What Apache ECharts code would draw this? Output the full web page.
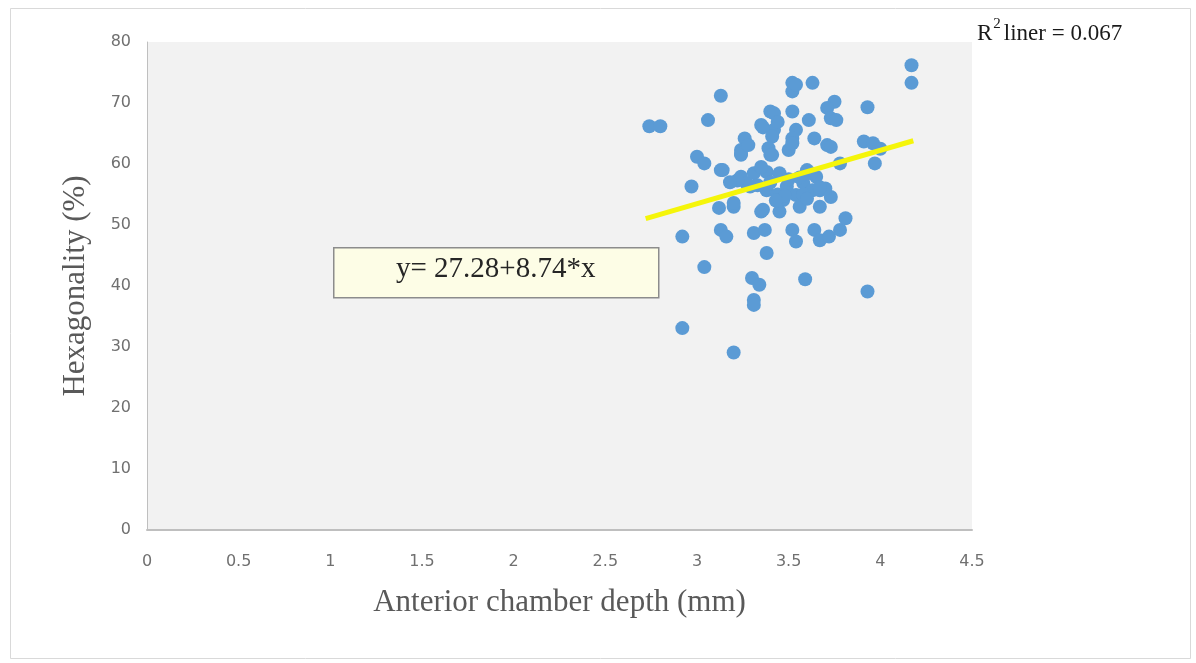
<!DOCTYPE html>
<html>
<head>
<meta charset="utf-8">
<script src="https://cdn.jsdelivr.net/npm/echarts@6/dist/echarts.min.js"></script>
<style>html,body{margin:0;padding:0;background:#fff}#c{width:1196px;height:663px}</style>
</head>
<body>
<div id="c"></div>
<script>
const xValues = [
3.13,3.06,2.74,2.80,3.00,3.04,3.26,3.35,3.40,3.42,3.24,3.52,3.63,3.52,3.54,4.17,4.17,3.93,3.75,3.71,
3.73,3.76,3.61,3.52,3.42,3.44,3.36,3.54,3.52,3.64,3.71,3.91,3.96,4.00,3.41,3.39,3.50,3.13,2.97,3.24,
3.12,3.20,2.92,3.13,3.16,3.31,3.37,3.35,3.38,3.40,3.97,3.78,3.36,3.52,3.54,3.64,3.67,3.72,3.78,3.81,
3.04,3.30,3.34,3.31,3.31,3.59,3.93,2.92,3.20,3.14,3.24,3.41,3.24,3.31,3.38,3.45,3.29,3.38,3.49,3.58,
3.65,3.63,3.54,3.47,3.20,3.45,3.56,3.67,3.73,3.67,3.73,3.52,3.28,3.40,3.44,3.50,3.58,3.60,3.70,3.62,
3.33,3.27,3.22,3.18,3.48,3.67,3.56,3.43,3.60,3.35
];
const yValues = [
71.2,67.2,66.2,66.2,61.2,60.1,64.2,66.4,68.6,65.6,62.3,73.3,73.3,71.9,73.0,76.2,73.3,69.3,70.2,69.2,
67.5,67.2,67.2,68.6,68.3,66.9,66.0,65.6,64.2,64.2,63.1,63.7,63.4,62.5,64.5,62.6,62.3,59.0,56.3,61.5,
52.8,53.0,48.1,49.2,48.1,48.7,49.2,52.2,45.4,61.5,60.1,60.1,52.5,49.2,47.3,49.2,47.5,48.1,49.2,51.1,
43.1,41.3,40.2,37.7,36.9,41.1,39.1,33.1,29.1,59.0,61.7,61.5,57.9,58.5,58.7,58.5,56.3,55.7,56.3,56.9,
57.9,55.7,54.9,54.1,53.6,52.2,53.0,53.0,54.6,55.7,62.8,63.4,63.1,57.0,55.0,57.5,55.0,59.0,56.0,58.5,
56.5,56.8,57.3,57.0,54.8,56.2,57.8,54.0,54.3,59.5
];
const fitIntercept = 27.28;
const fitSlope = 8.74;
const fitX = [2.72, 4.18];
const xTicks = [0, 0.5, 1, 1.5, 2, 2.5, 3, 3.5, 4, 4.5];
const yTicks = [0, 10, 20, 30, 40, 50, 60, 70, 80];

const points = xValues.map((x, i) => [x, yValues[i]]);
const fitLine = fitX.map(x => [x, fitIntercept + fitSlope * x]);

const chart = echarts.init(document.getElementById('c'), null, {renderer: 'canvas'});
chart.setOption({
  animation: false,
  backgroundColor: '#ffffff',
  grid: {left: 147, right: 224, top: 42, bottom: 133, show: true, backgroundColor: '#f2f2f2', borderWidth: 0},
  xAxis: {
    type: 'value', min: 0, max: 4.5, interval: 0.5,
    name: 'Anterior chamber depth (mm)', nameLocation: 'middle', nameGap: 57,
    nameTextStyle: {fontFamily: 'Liberation Serif', fontSize: 31, color: '#595959'},
    axisLine: {show: true, lineStyle: {color: '#bfbfbf', width: 2}},
    axisTick: {show: false},
    splitLine: {show: false},
    axisLabel: {margin: 24, fontFamily: 'DejaVu Sans', fontSize: 16, color: '#707070',
      formatter: v => xTicks.includes(+v.toFixed(2)) ? String(+v.toFixed(2)) : ''}
  },
  yAxis: {
    type: 'value', min: 0, max: 80, interval: 10,
    name: 'Hexagonality (%)', nameLocation: 'middle', nameGap: 56,
    nameTextStyle: {fontFamily: 'Liberation Serif', fontSize: 31, color: '#595959'},
    axisLine: {show: true, lineStyle: {color: '#bfbfbf', width: 1}},
    axisTick: {show: false},
    splitLine: {show: false},
    axisLabel: {margin: 16, fontFamily: 'DejaVu Sans', fontSize: 16, color: '#707070',
      formatter: v => yTicks.includes(v) ? String(v) : ''}
  },
  series: [
    {type: 'scatter', data: points, symbolSize: 14, itemStyle: {color: '#5b9bd5', opacity: 1}, z: 2},
    {type: 'line', data: fitLine, symbol: 'none', lineStyle: {color: '#f5f50a', width: 5}, z: 3}
  ],
  graphic: [
    {type: 'rect', left: 8, top: 6, shape: {width: 1180, height: 650}, style: {fill: 'none', stroke: '#d9d9d9', lineWidth: 1}, z: -1, silent: true},
    {type: 'rect', left: 333, top: 247, shape: {width: 325, height: 50}, style: {fill: '#fdfde6', stroke: '#8c8c8c', lineWidth: 1.5}, z: 10},
    {type: 'text', left: 396, top: 255, style: {text: 'y= 27.28+8.74*x', fontFamily: 'Liberation Serif', fontSize: 29, fill: '#262626'}, z: 11},
    {type: 'text', left: 977, top: 17, style: {
      text: '{r|R}{s|2}{r|liner = 0.067}',
      rich: {
        r: {fontFamily: 'Liberation Serif', fontSize: 23, fill: '#1a1a1a', color: '#1a1a1a', verticalAlign: 'bottom', lineHeight: 28},
        s: {fontFamily: 'Liberation Serif', fontSize: 15, fill: '#1a1a1a', color: '#1a1a1a', verticalAlign: 'top', lineHeight: 28, padding: [0, 3, 3, 1]}
      }
    }, z: 11}
  ]
});
</script>
</body>
</html>
